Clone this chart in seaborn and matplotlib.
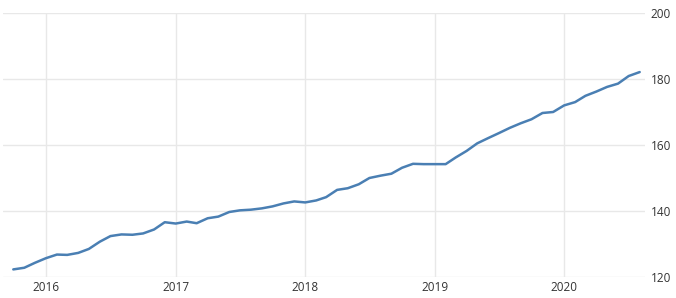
import matplotlib
matplotlib.use("Agg")
import matplotlib.pyplot as plt
import matplotlib.dates as mdates
import seaborn as sns
import pandas as pd
import numpy as np

# Monthly data Oct 2015 - Aug 2020
start_month = "2015-10-01"
values = [
    122.3, 122.8, 124.3,                       # Oct-Dec 2015
    125.7, 126.8, 126.7, 127.3, 128.5, 130.7,  # 2016 Jan-Jun
    132.4, 132.9, 132.8, 133.2, 134.4, 136.6,  # 2016 Jul-Dec
    136.2, 136.8, 136.3, 137.8, 138.3, 139.7,  # 2017 Jan-Jun
    140.2, 140.4, 140.8, 141.4, 142.3, 142.9,  # 2017 Jul-Dec
    142.6, 143.2, 144.2, 146.4, 146.9, 148.1,  # 2018 Jan-Jun
    150.0, 150.7, 151.3, 153.1, 154.3, 154.2,  # 2018 Jul-Dec
    154.2, 154.2, 156.2, 158.2, 160.5, 162.1,  # 2019 Jan-Jun
    163.6, 165.2, 166.6, 167.8, 169.7, 170.0,  # 2019 Jul-Dec
    172.0, 173.0, 174.9, 176.2, 177.6, 178.6,  # 2020 Jan-Jun
    180.9, 182.1,                              # 2020 Jul-Aug
]
dates = pd.date_range(start_month, periods=len(values), freq="MS")
year_ticks = ["2016", "2017", "2018", "2019", "2020"]
y_ticks = [120, 140, 160, 180, 200]

df = pd.DataFrame({"date": dates, "value": values})

sns.set_style("white")
plt.rcParams["font.family"] = ["Open Sans", "DejaVu Sans"]

fig = plt.figure(figsize=(6.76, 2.98), dpi=100)
W, H = 676, 298
left, right, top, bottom = 3, 645, 13, 277
ax = fig.add_axes([left / W, (H - bottom) / H, (right - left) / W, (bottom - top) / H])

sns.lineplot(data=df, x="date", y="value", ax=ax, color="#4a7fb3", linewidth=1.8)

ax.set_ylim(120, 200)
ax.set_xlim(pd.Timestamp("2015-09-02"), pd.Timestamp("2020-08-16"))
ax.set_yticks(y_ticks)
ax.set_xticks([pd.Timestamp(f"{y}-01-01") for y in year_ticks])
ax.set_xticklabels(year_ticks)
ax.yaxis.tick_right()
ax.grid(True, color="#e8e8e8", linewidth=1.0)
for s in ax.spines.values():
    s.set_visible(False)
ax.tick_params(axis="both", length=0, labelsize=8.5, colors="#333333")
ax.tick_params(axis="y", pad=4)
ax.tick_params(axis="x", pad=3)
ax.set_xlabel("")
ax.set_ylabel("")

fig.savefig("out.png", dpi=100)
